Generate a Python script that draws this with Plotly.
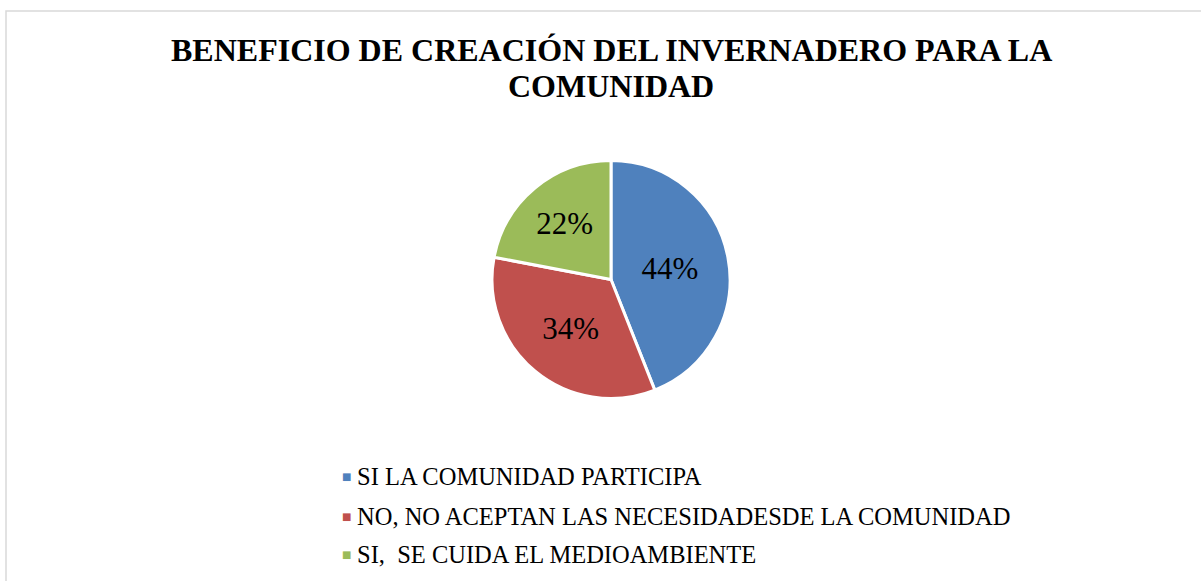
import plotly.graph_objects as go

labels = ["SI LA COMUNIDAD PARTICIPA",
          "NO, NO ACEPTAN LAS NECESIDADESDE LA COMUNIDAD",
          "SI,  SE CUIDA EL MEDIOAMBIENTE"]
values = [44, 34, 22]
colors = ["#4F81BD", "#C0504D", "#9BBB59"]
title_lines = ["BENEFICIO DE CREACIÓN DEL INVERNADERO PARA LA", "COMUNIDAD"]

W, H = 1201, 581
cx, cy, r = 611, 279.5, 119

fig = go.Figure()
fig.add_trace(go.Pie(
    labels=labels, values=values, sort=False, direction="clockwise", rotation=0,
    marker=dict(colors=colors, line=dict(color="white", width=3)),
    texttemplate="%{percent:.0%}", textposition="inside",
    insidetextorientation="horizontal",
    textfont=dict(family="Liberation Serif", size=31, color="black"),
    domain=dict(x=[(cx - r) / W, (cx + r) / W], y=[(H - cy - r) / H, (H - cy + r) / H]),
    showlegend=False, hoverinfo="label+percent",
))

# title lines
title_y = [50.5, 85.5]
for line, ty in zip(title_lines, title_y):
    fig.add_annotation(x=cx / W, y=1 - ty / H, xref="paper", yref="paper",
                       text=line, showarrow=False, xanchor="center", yanchor="middle",
                       font=dict(family="Liberation Serif", size=32, color="#000000", weight="bold"))

# manual legend
legend_y = [477, 516, 554]
for lab, col, ly in zip(labels, colors, legend_y):
    fig.add_annotation(x=346.5 / W, y=1 - ly / H, xref="paper", yref="paper",
                       text="■", showarrow=False, xanchor="center", yanchor="middle",
                       font=dict(family="DejaVu Sans", size=10, color=col))
    fig.add_annotation(x=355 / W, y=1 - ly / H, xref="paper", yref="paper",
                       text=lab, showarrow=False, xanchor="left", yanchor="middle",
                       font=dict(family="Liberation Serif", size=24.5, color="#000000"))

fig.update_layout(
    width=W, height=H,
    margin=dict(l=0, r=0, t=0, b=0),
    paper_bgcolor="white", plot_bgcolor="white",
    shapes=[dict(type="rect", xref="paper", yref="paper",
                 x0=6 / W, x1=1.01, y0=-0.01, y1=1 - 11 / H,
                 line=dict(color="#D9D9D9", width=1.5), fillcolor="rgba(0,0,0,0)")],
)

fig.write_html("out.html", config={"displayModeBar": False},
               post_script="document.body.style.margin='0';")
